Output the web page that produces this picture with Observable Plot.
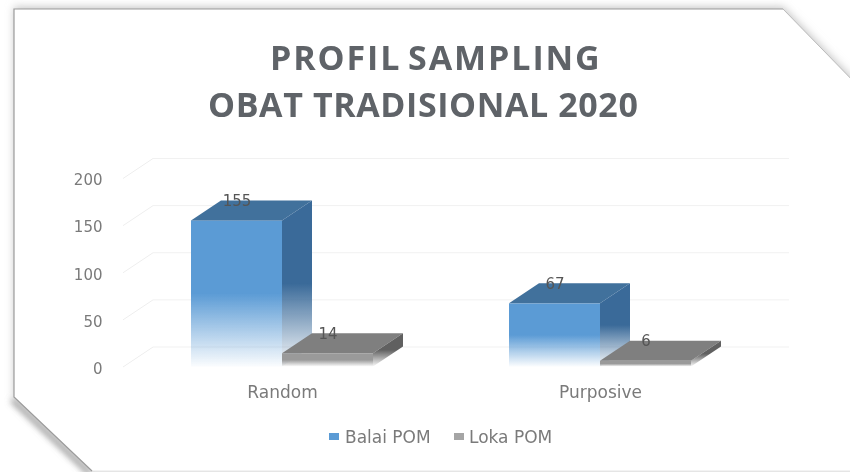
<!DOCTYPE html>
<html><head><meta charset="utf-8">
<script src="https://cdn.jsdelivr.net/npm/d3@7"></script>
<script src="https://cdn.jsdelivr.net/npm/@observablehq/plot@0.6"></script>
<style>
html,body{margin:0;padding:0;background:#fff;overflow:hidden}
#stage{position:relative;width:850px;height:472px;overflow:hidden;font-family:"DejaVu Sans",sans-serif;color:#7a7a7a}
#bg,#chart,#chart svg{position:absolute;left:0;top:0}
#chart{width:850px;height:472px;filter:blur(.35px)}
#title div{position:absolute;white-space:nowrap;font:700 34px/47px "Open Sans",sans-serif;color:#5f6368;filter:blur(.35px)}
#legend{position:absolute;top:428px;left:0;width:850px;height:30px;font-size:17px;line-height:18px;filter:blur(.35px)}
#legend span{position:absolute;white-space:nowrap}
#legend i{position:absolute;width:10px;height:7px;top:5px}
</style></head>
<body><div id="stage">
<svg id="bg" width="850" height="472">
<defs><filter id="sh" x="-10%" y="-10%" width="120%" height="120%"><feGaussianBlur stdDeviation="4"/></filter>
<filter id="sh2" filterUnits="userSpaceOnUse" x="0" y="370" width="120" height="110"><feGaussianBlur stdDeviation="3"/></filter></defs>
<rect width="850" height="472" fill="#fff"/>
<path d="M14 7H783L860 86V471H92L14 397Z" fill="#c4c4c4" filter="url(#sh)"/>
<path d="M14 397L92 471" stroke="#8a8a8a" stroke-width="4" fill="none" filter="url(#sh2)" transform="translate(-2,3)"/>
<path d="M14 9H783L860 88V471H92L14 397Z" fill="#fff"/>
<path d="M92 471H860" stroke="#e6e6e6" fill="none"/>
<path d="M783 9L860 88" stroke="#bbb" fill="none"/>
<path d="M783 9H14V397L92 471" stroke="#9c9c9c" stroke-width="1.2" fill="none"/>
</svg>
<div id="chart"></div>
<div id="title"></div>
<div id="legend"></div>
</div>
<script>
const titleLines = ["PROFIL SAMPLING", "OBAT TRADISIONAL 2020"];
const categories = ["Random", "Purposive"];
const seriesNames = ["Balai POM", "Loka POM"];
const balaiPOM = [155, 67];
const lokaPOM = [14, 6];
const yTicks = [0, 50, 100, 150, 200];

const rows = categories.flatMap((c, i) => [
  {category: c, series: seriesNames[0], value: balaiPOM[i]},
  {category: c, series: seriesNames[1], value: lokaPOM[i]}
]);
const gridRows = categories.flatMap(c => yTicks.map(t => ({category: c, tick: t})));

const DX = 30, DY = -20;
const looks = {
  "Balai POM": {id: "b", front: "#5b9bd5", top: "#41719c", side: "#3a6a99", swatch: "#5b9bd5"},
  "Loka POM":  {id: "l", front: "#9a9a9a", top: "#7f7f7f", side: "#606060", swatch: "#a5a5a5"}
};

function grad(defs, id, color) {
  const g = defs.append("linearGradient").attr("id", id).attr("x1", 0).attr("x2", 0).attr("y1", 0).attr("y2", 1);
  g.append("stop").attr("offset", "50%").attr("stop-color", color);
  g.append("stop").attr("offset", "100%").attr("stop-color", color).attr("stop-opacity", 0.03);
}

function box3d(look) {
  return function (index, scales, values, dims, ctx, next) {
    const g = next(index, scales, values, dims, ctx);
    const sel = d3.select(g);
    sel.selectAll("rect").each(function () {
      const x = +this.getAttribute("x"), y = +this.getAttribute("y"),
            w = +this.getAttribute("width"), h = +this.getAttribute("height");
      sel.append("path").attr("fill", look.top).attr("d",
        `M${x},${y}l${DX},${DY}h${w}l${-DX},${-DY}Z`);
      sel.append("path").attr("fill", `url(#side-${look.id})`).attr("d",
        `M${x + w},${y}l${DX},${DY}v${h}l${-DX},${-DY}Z`);
    });
    return g;
  };
}

function walls(index, scales, values, dims, ctx, next) {
  const g = next(index, scales, values, dims, ctx);
  const sel = d3.select(g);
  yTicks.forEach(t => {
    sel.append("path").attr("stroke", "#eeeeee").attr("stroke-opacity", 1).attr("fill", "none")
      .attr("d", `M${dims.marginLeft},${scales.y(t)}l${DX},${DY}`);
  });
  return g;
}

const seriesMark = name => Plot.barY(rows.filter(r => r.series === name), {
  fx: "category", x: "series", y: "value",
  fill: `url(#front-${looks[name].id})`,
  render: box3d(looks[name])
});

const plot = Plot.plot({
  width: 850, height: 472,
  marginLeft: 123, marginRight: 91, marginTop: 178, marginBottom: 105.5,
  style: {background: "transparent", fontFamily: '"DejaVu Sans",sans-serif', fontSize: "15px", color: "#7a7a7a", overflow: "visible"},
  fx: {domain: categories, padding: 0, label: null},
  x: {domain: seriesNames, padding: 0, paddingOuter: 0.747, axis: null},
  y: {domain: [0, 200], label: null},
  marks: [
    Plot.ruleY(gridRows, {fx: "category", y: "tick", dx: DX, dy: DY, stroke: "#f1f1f1"}),
    Plot.ruleY(gridRows.filter(d => d.category === categories[0] && d.tick === 0), {fx: "category", y: "tick", stroke: "#f1f1f1", strokeOpacity: 0, render: walls}),
    Plot.axisY({values: yTicks, tickSize: 0, tickPadding: 21, label: null, fontSize: 15, fill: "#7a7a7a", dy: 2}),
    Plot.axisFx({anchor: "bottom", tickSize: 0, tickPadding: 19, label: null, fontSize: 17, fill: "#7a7a7a"}),
    seriesMark(seriesNames[0]),
    seriesMark(seriesNames[1]),
    Plot.text(rows, {fx: "category", x: "series", y: "value", text: d => String(d.value),
      dy: -20, fontSize: 15, fill: "#555"})
  ]
});

const defs = d3.select(plot).insert("defs", ":first-child");
Object.values(looks).forEach(l => {
  grad(defs, `front-${l.id}`, l.front);
  grad(defs, `side-${l.id}`, l.side);
});
document.getElementById("chart").append(plot);

const titlePos = [{left: 270, top: 34, ls: "1.9px", ws: "-4px"}, {left: 208, top: 81, ls: "0.6px", ws: "0"}];
titleLines.forEach((t, i) => {
  const d = document.createElement("div");
  d.textContent = t;
  d.style.left = titlePos[i].left + "px";
  d.style.top = titlePos[i].top + "px";
  d.style.letterSpacing = titlePos[i].ls;
  d.style.wordSpacing = titlePos[i].ws;
  document.getElementById("title").append(d);
});
const legendPos = [{sw: 329, tx: 345}, {sw: 454, tx: 469}];
const legend = d3.select("#legend");
seriesNames.forEach((n, i) => {
  legend.append("i").style("left", legendPos[i].sw + "px").style("background", looks[n].swatch);
  legend.append("span").style("left", legendPos[i].tx + "px").text(n);
});
</script>
</body></html>
